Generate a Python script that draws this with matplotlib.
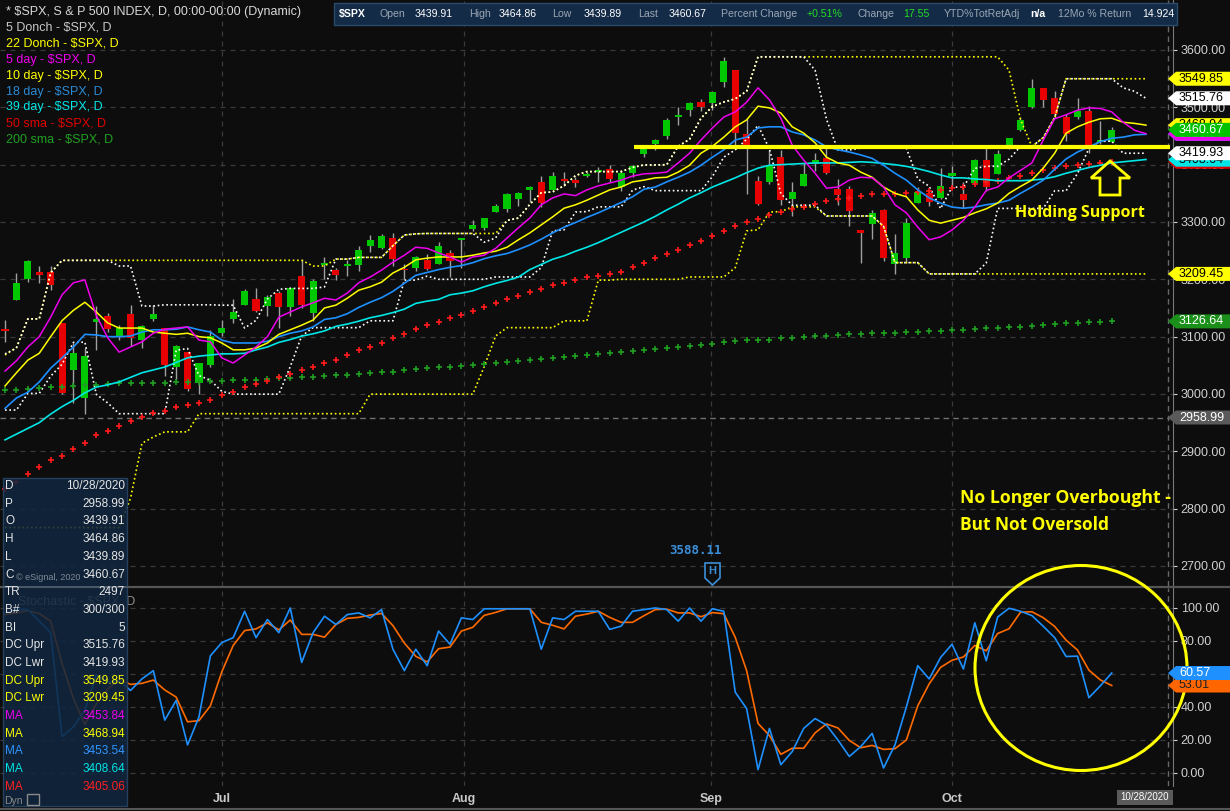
import numpy as np
import matplotlib
matplotlib.use("Agg")
import matplotlib.pyplot as plt
from matplotlib.patches import Rectangle, Polygon, Ellipse
from matplotlib.lines import Line2D
from matplotlib.ticker import FormatStrFormatter

plt.rcParams['font.family'] = ['Liberation Sans', 'DejaVu Sans']

# ---------------- data (daily bars, 4 Jun 2020 .. 21 Oct 2020) ----------------
open_ = [3111.56, 3163.84, 3199.92, 3213.32, 3213.42, 3123.53, 3071.04, 2993.76, 3131.00, 3136.13,
         3101.64, 3140.29, 3094.42, 3138.70, 3114.40, 3046.60, 3073.20, 3018.59, 3050.20, 3105.92,
         3143.64, 3155.29, 3166.44, 3153.07, 3176.17, 3152.47, 3205.08, 3141.11, 3225.98, 3208.36,
         3224.21, 3224.29, 3268.52, 3254.86, 3271.64, 3218.58, 3219.84, 3234.27, 3227.22, 3231.76,
         3270.45, 3288.26, 3289.92, 3317.37, 3323.17, 3340.05, 3356.04, 3370.34, 3355.46, 3372.95,
         3368.66, 3380.86, 3387.04, 3392.51, 3360.48, 3386.01, 3418.09, 3435.95, 3449.97, 3485.14,
         3494.69, 3509.73, 3507.44, 3543.76, 3564.74, 3453.60, 3371.88, 3369.82, 3412.56, 3352.70,
         3363.56, 3407.73, 3411.23, 3346.86, 3357.38, 3285.57, 3295.75, 3320.11, 3226.14, 3236.66,
         3333.90, 3350.92, 3341.21, 3385.87, 3338.94, 3367.27, 3408.74, 3384.56, 3434.28, 3459.67,
         3500.02, 3534.01, 3515.47, 3453.72, 3493.50, 3493.66, 3439.38, 3439.91]
high_ = [3128.91, 3211.72, 3233.13, 3222.71, 3223.27, 3123.53, 3088.42, 3079.76, 3153.45, 3141.16,
         3120.00, 3155.53, 3120.92, 3154.90, 3115.01, 3086.25, 3073.73, 3053.89, 3111.51, 3128.44,
         3165.81, 3182.59, 3184.15, 3171.80, 3179.78, 3186.82, 3235.32, 3200.95, 3238.28, 3220.39,
         3233.52, 3258.61, 3277.29, 3279.32, 3279.99, 3227.26, 3241.43, 3243.72, 3264.74, 3250.92,
         3272.17, 3302.73, 3306.84, 3330.77, 3351.03, 3352.54, 3363.29, 3381.01, 3387.89, 3387.24,
         3378.51, 3387.59, 3395.06, 3399.54, 3390.80, 3399.96, 3432.09, 3444.21, 3481.07, 3501.38,
         3509.23, 3514.77, 3528.03, 3588.11, 3564.85, 3479.15, 3379.97, 3424.77, 3425.55, 3368.95,
         3402.93, 3419.48, 3428.92, 3375.17, 3362.27, 3285.57, 3320.31, 3323.35, 3278.70, 3306.88,
         3360.74, 3357.92, 3393.56, 3397.18, 3369.10, 3409.57, 3431.56, 3426.26, 3447.28, 3482.34,
         3549.85, 3534.01, 3527.94, 3489.08, 3515.76, 3502.42, 3476.93, 3464.86]
low_ = [3090.41, 3163.84, 3196.00, 3193.11, 3181.49, 2999.49, 2984.47, 2965.66, 3076.06, 3108.03,
        3093.51, 3083.11, 3079.39, 3127.12, 3032.13, 3024.01, 3004.63, 2999.74, 3047.83, 3101.17,
        3124.52, 3155.29, 3142.93, 3136.53, 3115.70, 3136.22, 3149.43, 3127.66, 3200.76, 3198.59,
        3205.65, 3215.16, 3247.77, 3253.10, 3222.66, 3200.05, 3214.25, 3216.17, 3227.22, 3204.13,
        3220.26, 3284.53, 3286.37, 3317.37, 3318.14, 3328.72, 3335.44, 3326.44, 3355.46, 3363.35,
        3361.64, 3379.22, 3370.15, 3369.66, 3354.69, 3379.31, 3413.13, 3425.84, 3444.15, 3468.35,
        3484.32, 3493.25, 3494.60, 3535.23, 3427.41, 3349.63, 3329.27, 3366.84, 3329.25, 3310.47,
        3363.56, 3389.25, 3384.45, 3328.82, 3292.40, 3229.10, 3270.95, 3232.57, 3209.45, 3228.44,
        3332.91, 3327.54, 3340.47, 3361.39, 3323.69, 3367.27, 3354.54, 3384.56, 3428.15, 3458.07,
        3499.61, 3500.86, 3480.55, 3440.89, 3480.45, 3419.93, 3435.65, 3439.89]
close_ = [3112.35, 3193.93, 3232.39, 3207.18, 3190.14, 3002.10, 3041.31, 3066.59, 3124.74, 3113.49,
          3115.34, 3097.74, 3117.86, 3131.29, 3050.33, 3083.76, 3009.05, 3053.24, 3100.29, 3115.86,
          3130.01, 3179.72, 3145.32, 3169.94, 3152.05, 3185.04, 3155.22, 3197.52, 3226.56, 3215.57,
          3224.73, 3251.84, 3257.30, 3276.02, 3235.66, 3215.63, 3239.41, 3218.44, 3258.44, 3246.22,
          3271.12, 3294.61, 3306.51, 3327.77, 3349.16, 3351.28, 3360.47, 3333.69, 3380.35, 3373.43,
          3372.85, 3381.99, 3389.78, 3374.85, 3385.51, 3397.16, 3431.28, 3443.62, 3478.73, 3484.55,
          3508.01, 3500.31, 3526.65, 3580.84, 3455.06, 3426.96, 3331.84, 3398.96, 3339.19, 3340.97,
          3383.54, 3401.20, 3385.49, 3357.01, 3319.47, 3281.06, 3315.57, 3236.92, 3246.59, 3298.46,
          3351.60, 3335.47, 3363.00, 3380.80, 3348.42, 3408.63, 3360.97, 3419.44, 3446.83, 3477.14,
          3534.22, 3511.93, 3488.67, 3483.34, 3483.81, 3426.92, 3443.12, 3460.67]

# displaced (+3 bars) studies, one value per bar slot 0..100
wma5 = [3040, 3058, 3082, 3100, 3134, 3173, 3194, 3199, 3137, 3098, 3073, 3082, 3091, 3106, 3113, 3115,
        3117, 3094, 3091, 3063, 3054, 3068, 3082, 3100, 3134, 3143, 3152, 3159, 3167, 3164, 3176, 3194,
        3204, 3216, 3230, 3242, 3256, 3254, 3246, 3239, 3230, 3239, 3242, 3254, 3272, 3290, 3307, 3330,
        3342, 3349, 3346, 3356, 3363, 3368, 3373, 3380, 3384, 3385, 3387, 3403, 3420, 3443, 3464, 3483,
        3492, 3509, 3534, 3513, 3481, 3434, 3408, 3385, 3359, 3361, 3373, 3378, 3377, 3361, 3330, 3316,
        3291, 3269, 3274, 3286, 3303, 3326, 3355, 3361, 3377, 3390, 3403, 3443, 3480, 3487, 3495, 3499,
        3498, 3492, 3474, 3460, 3454]
wma10 = [3014, 3037, 3059, 3071, 3100, 3128, 3146, 3160, 3143, 3124, 3115, 3115, 3115, 3108, 3106, 3104,
         3106, 3100, 3098, 3089, 3077, 3077, 3080, 3089, 3104, 3112, 3120, 3129, 3150, 3155, 3167, 3181,
         3187, 3195, 3211, 3221, 3234, 3237, 3239, 3239, 3239, 3242, 3246, 3249, 3256, 3269, 3281, 3295,
         3309, 3324, 3330, 3338, 3347, 3356, 3361, 3370, 3373, 3377, 3378, 3387, 3399, 3420, 3432, 3448,
         3466, 3478, 3502, 3499, 3490, 3466, 3455, 3438, 3413, 3403, 3399, 3387, 3378, 3361, 3350, 3344,
         3321, 3303, 3298, 3303, 3308, 3316, 3323, 3333, 3350, 3362, 3373, 3394, 3420, 3455, 3466, 3474,
         3480, 3481, 3474, 3472, 3469]
wma18 = [2975, 2993, 3003, 3021, 3045, 3063, 3082, 3104, 3103, 3100, 3100, 3101, 3108, 3112, 3112, 3113,
         3117, 3112, 3108, 3094, 3089, 3089, 3089, 3092, 3100, 3106, 3110, 3117, 3130, 3133, 3140, 3151,
         3160, 3168, 3179, 3193, 3207, 3212, 3217, 3221, 3224, 3229, 3236, 3241, 3245, 3252, 3260, 3270,
         3281, 3291, 3299, 3308, 3316, 3325, 3334, 3344, 3357, 3361, 3370, 3378, 3387, 3399, 3413, 3426,
         3443, 3448, 3464, 3466, 3466, 3457, 3452, 3443, 3431, 3426, 3422, 3417, 3411, 3399, 3385, 3373,
         3356, 3342, 3333, 3326, 3324, 3326, 3330, 3333, 3338, 3350, 3361, 3373, 3392, 3410, 3422, 3431,
         3440, 3446, 3448, 3452, 3453]
wma39 = [2920, 2930, 2940, 2950, 2965, 2978, 2989, 3002, 3012, 3016, 3021, 3029, 3037, 3042, 3047, 3055,
         3063, 3066, 3068, 3070, 3070, 3071, 3077, 3082, 3090, 3095, 3101, 3105, 3110, 3118, 3122, 3127,
         3133, 3137, 3142, 3148, 3158, 3162, 3165, 3173, 3176, 3180, 3187, 3193, 3198, 3204, 3217, 3226,
         3235, 3241, 3249, 3256, 3264, 3273, 3282, 3291, 3300, 3310, 3321, 3331, 3342, 3351, 3361, 3369,
         3377, 3386, 3394, 3399, 3400, 3401, 3402, 3403, 3403, 3403, 3404, 3405, 3404, 3402, 3400, 3397,
         3393, 3388, 3382, 3377, 3377, 3375, 3374, 3372, 3372, 3372, 3373, 3375, 3379, 3385, 3390, 3395,
         3399, 3403, 3405, 3407, 3409]
dc5_upper = ([3070, 3080, 3131, 3131, 3211, 3233, 3233, 3233.13, 3233.13, 3233.13, 3223.27, 3223.27,
              3153.45, 3153.45] + [3155.53] * 5 + [3154.90, 3154.90, 3115.01, 3128.44, 3165.81, 3182.59,
              3184.15, 3184.15, 3184.15, 3186.82, 3235.32, 3235.32, 3238.28, 3238.28, 3238.28, 3258.61,
              3277.29, 3279.32] + [3279.99] * 5 + [3264.74, 3272.17, 3302.73, 3306.84, 3330.77, 3351.03,
              3352.54, 3363.29, 3381.01] + [3387.89] * 4 + [3395.06, 3399.54, 3399.54, 3399.96, 3432.09,
              3444.21, 3481.07, 3501.38, 3509.23, 3514.77, 3528.03] + [3588.11] * 5 + [3564.85, 3479.15,
              3425.55, 3425.55] + [3428.92] * 5 + [3375.17, 3362.27, 3323.35, 3360.74, 3360.74, 3393.56,
              3397.18, 3397.18, 3409.57, 3431.56, 3431.56, 3447.28, 3482.34] + [3549.85] * 5 +
             [3534.01, 3527.94, 3515.76])
dc5_lower = ([2972, 2972, 3001, 3001, 3031, 3052, 3090, 3090.41, 2999.49, 2984.47] + [2965.66] * 5 +
             [3076.06, 3079.39, 3032.13, 3024.01, 3004.63] + [2999.74] * 5 + [3047.83, 3101.17] +
             [3115.70] * 5 + [3127.66] * 3 + [3198.59] * 2 + [3205.65] + [3200.05] * 5 + [3204.13] * 4 +
             [3220.26, 3284.53, 3286.37, 3317.37, 3318.14] + [3326.44] * 3 + [3355.46, 3361.64] +
             [3354.69] * 5 + [3379.31, 3413.13, 3425.84, 3444.15, 3468.35, 3427.41, 3349.63] +
             [3329.27] * 2 + [3329.25] + [3310.47] * 5 + [3292.40] + [3229.10] * 3 + [3209.45] * 5 +
             [3228.44] + [3323.69] * 5 + [3354.54] * 2 + [3384.56, 3428.15] + [3440.89] * 2 + [3419.93] * 3)
dc22_upper = ([3068, 3081, 3131, 3131, 3212] + [3233.13] * 22 + [3223.27] * 2 + [3235.32] * 2 +
              [3238.28] * 3 + [3258.61, 3277.29, 3279.32] + [3279.99] * 7 +
              [3302.73, 3306.84, 3330.77, 3351.03, 3352.54, 3363.29, 3381.01] + [3387.89] * 4 +
              [3395.06, 3399.54, 3399.54, 3399.96, 3432.09, 3444.21, 3481.07, 3501.38, 3509.23, 3514.77,
               3528.03] + [3588.11] * 22 + [3564.85, 3479.15, 3431.56, 3447.28, 3482.34] + [3549.85] * 8)
dc22_lower = ([2767] * 11 + [2818, 2914, 2925, 2934, 2934, 2934] + [2965.66] * 15 + [2999.74] * 10 +
              [3047.83, 3101.17] + [3115.70] * 5 + [3127.66] * 3 + [3198.59] * 2 + [3200.05] * 6 +
              [3204.13] * 4 + [3220.26, 3284.53, 3286.37, 3317.37, 3318.14] + [3326.44] * 3 +
              [3310.47] * 5 + [3292.40] + [3229.10] * 3 + [3209.45] * 20)
sma50 = [2835, 2846, 2860, 2872, 2885, 2892, 2904, 2914, 2928, 2935, 2944, 2953, 2960, 2967, 2970, 2977,
         2981, 2984, 2989, 2998, 3003, 3012, 3017, 3023, 3030, 3035, 3042, 3047, 3054, 3059, 3068, 3077,
         3082, 3089, 3098, 3105, 3113, 3120, 3125, 3133, 3138, 3145, 3152, 3159, 3166, 3171, 3178, 3183,
         3190, 3194, 3199, 3204, 3206, 3209, 3213, 3221, 3228, 3237, 3244, 3251, 3260, 3267, 3276, 3284,
         3293, 3300, 3305, 3312, 3317, 3323, 3326, 3331, 3337, 3340, 3342, 3345, 3349, 3349, 3349, 3350,
         3352, 3354, 3356, 3359, 3361, 3366, 3369, 3372, 3376, 3380, 3385, 3391, 3394, 3398, 3399, 3401,
         3403, 3405]
sma200 = [3007, 3007.5, 3009, 3010, 3012, 3013, 3014, 3015, 3016, 3017, 3018.5, 3018.6, 3019, 3020, 3020,
          3020.5, 3021, 3021.5, 3022, 3022, 3024, 3024, 3025, 3026, 3027.5, 3028, 3029, 3030, 3032, 3033,
          3033, 3035, 3036, 3038, 3039, 3042, 3044, 3045, 3046.5, 3046.5, 3048, 3050, 3052, 3053.5, 3055,
          3057, 3059, 3060.5, 3062, 3064, 3066, 3067.5, 3069, 3071, 3073, 3074.5, 3076, 3078, 3080, 3081.5,
          3083, 3085, 3087, 3090, 3092, 3094, 3094, 3095, 3097, 3097, 3099, 3100.6, 3100.6, 3102.4, 3104,
          3104, 3106, 3106, 3106, 3107.6, 3107.6, 3109.4, 3109.4, 3111, 3111, 3113, 3114.6, 3114.6, 3116.3,
          3116.3, 3118, 3119.8, 3121.6, 3123.3, 3123.3, 3125, 3125, 3126.6]
stoch_k = [97, 99, 99, 92, 85, 22, 28, 38, 59.5, 55, 56, 50, 57, 62, 32, 44, 17, 34, 71, 79,
           82, 98, 82, 93, 85, 100, 67, 85, 95, 90, 96, 97, 94, 99, 75, 62, 75, 65, 86, 78,
           94, 93, 99.5, 99.5, 99.5, 99.5, 99.5, 75, 94, 93, 98, 98, 98, 87, 89, 98, 99, 100, 99, 92,
           100, 92, 99.5, 98, 49, 39, 2, 27, 5, 13, 27, 33, 29, 20, 10, 16, 24, 3, 17, 40,
           65, 57, 70, 78, 63, 91, 68, 94.5, 99.8, 98, 95.4, 88.9, 82, 70.6, 70.8, 45.6, 52.8, 60.57]
stoch_d = [96, 97, 98.3, 96.7, 92, 66.3, 45, 29.3, 41.8, 50.8, 56.8, 53.7, 54.3, 56.3, 50.3, 46, 31, 31.7,
           40.7, 61.3, 77.3, 86.3, 87.3, 91, 86.7, 92.7, 84, 84, 82.3, 90, 93.7, 94.3, 95.7, 96.7, 89.3,
           78.7, 70.7, 67.3, 75.3, 76.3, 86, 88.3, 95.5, 97.3, 99.5, 99.5, 99.5, 91.3, 89.5, 87.3, 95, 96.3,
           98, 94.3, 91.3, 91.3, 95.3, 99, 99.3, 97, 97, 94.7, 97.2, 96.5, 82.2, 62, 30, 22.7, 11.3, 15,
           15, 24.3, 29.7, 27.3, 19.7, 15.3, 16.7, 14.3, 14.7, 20, 40.7, 54, 64, 68.3, 70.3, 77.3, 74,
           84.5, 87.4, 97.4, 97.7, 94.1, 88.8, 80.5, 74.5, 62.3, 56.4, 53.0]

month_labels = ['Jul', 'Aug', 'Sep', 'Oct']
price_ticks = list(range(2700, 3601, 100))
stoch_ticks = [0, 20, 40, 60, 80, 100]
SUPPORT = 3431
CURSOR_PRICE = 2958.99

legend_lines = ['* $SPX, S & P 500 INDEX, D, 00:00-00:00 (Dynamic)', '5 Donch - $SPX, D', '22 Donch - $SPX, D',
                '5 day - $SPX, D', '10 day - $SPX, D', '18 day - $SPX, D', '39 day - $SPX, D',
                '50 sma - $SPX, D', '200 sma - $SPX, D']
info_labels = ['D', 'P', 'O', 'H', 'L', 'C', 'TR', 'B#', 'BI', 'DC Upr', 'DC Lwr', 'DC Upr', 'DC Lwr',
               'MA', 'MA', 'MA', 'MA', 'MA']
info_values = ['10/28/2020', '2958.99', '3439.91', '3464.86', '3439.89', '3460.67', '2497', '300/300', '5',
               '3515.76', '3419.93', '3549.85', '3209.45', '3453.84', '3468.94', '3453.54', '3408.64', '3405.06']

# ---------------- figure ----------------
W, H = 1230, 811
BG = '#0d0d0d'
fig = plt.figure(figsize=(W / 100, H / 100), dpi=100, facecolor=BG)


def fx(px):
    return px / W


def fy(py):
    return 1 - py / H


ax = fig.add_axes([0, fy(586), 1173 / W, 586 / H], facecolor=BG)
axs = fig.add_axes([0, fy(786), 1173 / W, 198 / H], facecolor=BG)

C_MAG, C_YEL, C_BLU, C_CYA, C_RED, C_GRN = '#ee00ee', '#ffff00', '#1e8fff', '#00e6e6', '#ff1a1a', '#1f9f1f'

o, h, l, c = map(np.array, (open_, high_, low_, close_))
x = np.arange(len(c))
up = np.r_[False, c[1:] >= c[:-1]]
cols = np.where(up, '#00c800', '#e60000')
ax.vlines(x, l, h, color='#a0a0a0', lw=1, zorder=2)
bot = np.minimum(o, c)
ht = np.abs(c - o)
small = ht < 3
bot = np.where(small, (o + c) / 2 - 1.5, bot)
ht = np.where(small, 3, ht)
ax.bar(x, ht, bottom=bot, width=0.62, color=cols, lw=0, zorder=3)

dot = (0, (1, 1.6))


def pl(arr, **kw):
    ax.plot(np.arange(len(arr)), arr, **kw)


pl(dc22_upper, color=C_YEL, lw=1.2, ls=dot, zorder=4)
pl(dc22_lower, color=C_YEL, lw=1.2, ls=dot, zorder=4)
pl(dc5_upper, color='white', lw=1.2, ls=dot, zorder=4)
pl(dc5_lower, color='white', lw=1.2, ls=dot, zorder=4)
pl(sma200, ls='none', marker='+', color=C_GRN, ms=5, mew=1.2, zorder=4)
pl(sma50, ls='none', marker='+', color=C_RED, ms=5, mew=1.2, zorder=4)
pl(wma39, color=C_CYA, lw=1.2, zorder=5)
pl(wma18, color=C_BLU, lw=1.2, zorder=5)
pl(wma10, color=C_YEL, lw=1.1, zorder=5)
pl(wma5, color=C_MAG, lw=1.1, zorder=5)

XL = (-0.44, 102.37)
CURSOR_IDX = 101.9
ax.set_xlim(*XL)
ax.set_ylim(2665.1, 3687.2)
axs.set_xlim(*XL)
axs.set_ylim(-7.9, 112.1)

month_pos = [19, 40.25, 61.9, 83]
grid_kw = dict(color='#3a3a3a', ls=(0, (4, 4)), lw=0.9)
for a, ticks in ((ax, price_ticks), (axs, stoch_ticks)):
    a.set_yticks(ticks)
    a.yaxis.set_major_formatter(FormatStrFormatter('%.2f'))
    a.yaxis.tick_right()
    a.tick_params(axis='y', colors='#d0d0d0', labelsize=9, length=3, pad=2.5, width=0.8)
    a.set_xticks(month_pos)
    a.grid(True, **grid_kw)
    a.set_axisbelow(True)
    for s in a.spines.values():
        s.set_visible(False)
    a.spines['right'].set_visible(True)
    a.spines['right'].set_color('#7a7a7a')
    a.axvline(CURSOR_IDX, color='#686868', ls=(0, (4, 3)), lw=1, zorder=1.5)
ax.tick_params(axis='x', length=0, labelbottom=False)
axs.set_xticklabels(month_labels, fontweight='bold')
axs.tick_params(axis='x', colors='#c8c8c8', labelsize=9, length=0, pad=5)

ax.axhline(CURSOR_PRICE, color='#707070', ls=(0, (4, 3)), lw=1, zorder=1.5)
ax.plot([55.1, 102.1], [SUPPORT, SUPPORT], color=C_YEL, lw=3, zorder=9, solid_capstyle='butt')

axs.plot(x, stoch_d, color='#ff6a00', lw=1.2, zorder=3)
axs.plot(x, stoch_k, color='#1e90ff', lw=1.2, zorder=4)


def add_poly(pts, **kw):
    fig.add_artist(Polygon([(fx(a), fy(b)) for a, b in pts], closed=True, transform=fig.transFigure, **kw))


# arrow "Holding Support"
add_poly([(1110, 161), (1130, 178), (1120, 178), (1120, 195), (1100, 195), (1100, 178), (1091, 178)],
         fill=False, ec=C_YEL, lw=2, zorder=9)
fig.text(fx(1015), fy(213), 'Holding Support', color=C_YEL, fontsize=11.5, fontweight='bold',
         family=['Open Sans', 'DejaVu Sans'], va='center', ha='left', zorder=9)
fig.text(fx(960), fy(498), 'No Longer Overbought -', color=C_YEL, fontsize=12.7, fontweight='bold',
         family=['Open Sans', 'DejaVu Sans'], va='center', ha='left', zorder=9)
fig.text(fx(960), fy(525), 'But Not Oversold', color=C_YEL, fontsize=12.5, fontweight='bold',
         family=['Open Sans', 'DejaVu Sans'], va='center', ha='left', zorder=9)
fig.add_artist(Ellipse((fx(1081), fy(668)), 212 / W, 205 / H, fill=False, ec=C_YEL, lw=2.2,
                       transform=fig.transFigure, zorder=30))

# high marker
fig.text(fx(695), fy(550), '3588.11', color='#3a8fd8', fontsize=9, fontweight='bold',
         family='DejaVu Sans Mono', ha='center', va='center', zorder=9)
add_poly([(705, 563), (720, 563), (720, 578), (712.5, 585), (705, 578)], fc=BG, ec='#3a8fd8', lw=1.2, zorder=9)
fig.text(fx(712.5), fy(571), 'H', color='#3a8fd8', fontsize=8, fontweight='bold', ha='center', va='center',
         zorder=10)

# legend (top-left)
legend_colors = ['#d8d8d8', '#c8c8c8', C_YEL, C_MAG, C_YEL, '#2a8ad4', C_CYA, '#e00000', '#20a020']
for k, (t, col) in enumerate(zip(legend_lines, legend_colors)):
    fig.text(fx(6), fy(12 + 15.9 * k), t, color=col, fontsize=9, va='center', ha='left', zorder=8)

# header box
fig.add_artist(Rectangle((fx(334), fy(25)), 843 / W, 22 / H, fc='#132b47', ec='#2c4a6a', lw=1,
                         transform=fig.transFigure, zorder=12))
header = [(339, '$SPX', 'white', 'bold'), (380, 'Open', '#9aa6b3', 'normal'), (415, '3439.91', 'white', 'normal'),
          (469, 'High', '#9aa6b3', 'normal'), (499, '3464.86', 'white', 'normal'),
          (552, 'Low', '#9aa6b3', 'normal'), (584, '3439.89', 'white', 'normal'),
          (638, 'Last', '#9aa6b3', 'normal'), (669, '3460.67', 'white', 'normal'),
          (721, 'Percent Change', '#9aa6b3', 'normal'), (807, '+0.51%', '#22dd22', 'normal'),
          (857, 'Change', '#9aa6b3', 'normal'), (903, '17.55', '#22dd22', 'normal'),
          (944, 'YTD%TotRetAdj', '#9aa6b3', 'normal'), (1030, 'n/a', 'white', 'bold'),
          (1058, '12Mo % Return', '#9aa6b3', 'normal'), (1142, '14.924', 'white', 'normal')]
for px_, t, col, wt in header:
    fig.text(fx(px_), fy(14), t, color=col, fontsize=7.6, fontweight=wt, va='center', ha='left', zorder=13)

# stochastic title
fig.text(fx(18), fy(601), 'Stochastic - $SPX, D', color='#8f8f8f', fontsize=9, va='center', ha='left', zorder=5)

# panel separators
fig.add_artist(Line2D([0, 1], [fy(587), fy(587)], transform=fig.transFigure, color='#555555', lw=1.6, zorder=6))
fig.add_artist(Line2D([0, 1], [fy(809), fy(809)], transform=fig.transFigure, color='#555555', lw=1.5, zorder=6))

# info panel
fig.add_artist(Rectangle((fx(3), fy(806)), 124 / W, 328 / H, fc='#10263f', ec='#2a4866', lw=1, alpha=0.86,
                         transform=fig.transFigure, zorder=15))
fig.add_artist(Line2D([fx(3), fx(127)], [fy(587), fy(587)], transform=fig.transFigure, color='#4a5a6a',
                      lw=1.4, zorder=16))
fig.text(fx(16), fy(578), '\u00a9 eSignal, 2020', color='#7f8a96', fontsize=6.5, va='center', ha='left', zorder=16)
fig.text(fx(4), fy(801), 'Dyn', color='#8a8a8a', fontsize=7.5, va='center', ha='left', zorder=16)
fig.add_artist(Rectangle((fx(27), fy(805)), 12 / W, 11 / H, fill=False, ec='#8a8a8a', lw=1,
                         transform=fig.transFigure, zorder=16))
info_colors = ['#e6e6e6'] * 11 + [C_YEL, C_YEL, C_MAG, C_YEL, '#2f96ff', C_CYA, '#ff2020']
for k, (lab, val, col) in enumerate(zip(info_labels, info_values, info_colors)):
    yy = fy(486 + 17.7 * k)
    fig.text(fx(5), yy, lab, color=col, fontsize=8.5, va='center', ha='left', zorder=17)
    fig.text(fx(125), yy, val, color=col, fontsize=8.5, va='center', ha='right', zorder=17)

# right-axis value tags
zc = [20]


def tag(axis, val, fc, tc, show_text=True):
    yd = axis.transData.transform((0, val))[1]
    yt = H - yd
    add_poly([(1168, yt), (1176, yt - 7), (1230, yt - 7), (1230, yt + 7), (1176, yt + 7)], fc=fc, ec='none',
             zorder=zc[0])
    if show_text:
        fig.text(fx(1179), fy(yt), f'{val:.2f}', color=tc, fontsize=9, va='center', ha='left',
                 zorder=zc[0] + 1)
    zc[0] += 2


main_tags = [(2958.99, '#5a5a5a', 'white', True), (3126.64, '#1a8f1a', 'white', True),
             (3209.45, C_YEL, 'black', True), (3405.06, '#e00000', 'white', False),
             (3408.64, C_CYA, 'black', True), (3419.93, 'white', 'black', True),
             (3453.54, '#1e90ff', 'white', False), (3453.84, C_MAG, 'white', True),
             (3468.94, C_YEL, 'black', True), (3460.67, '#00c000', 'white', True),
             (3515.76, 'white', 'black', True), (3549.85, C_YEL, 'black', True)]
for v, fc, tc, st in main_tags:
    tag(ax, v, fc, tc, st)
for v, fc, tc in [(53.01, '#ff6600', '#202020'), (60.57, '#1e90ff', 'white')]:
    tag(axs, v, fc, tc)

# date tag
fig.add_artist(Rectangle((fx(1117), fy(805)), 56 / W, 15 / H, fc='#5a5a5a', ec='none',
                         transform=fig.transFigure, zorder=12))
fig.text(fx(1145), fy(797.5), '10/28/2020', color='white', fontsize=7, va='center', ha='center', zorder=13)

fig.savefig('out.png', dpi=100, facecolor=BG)
